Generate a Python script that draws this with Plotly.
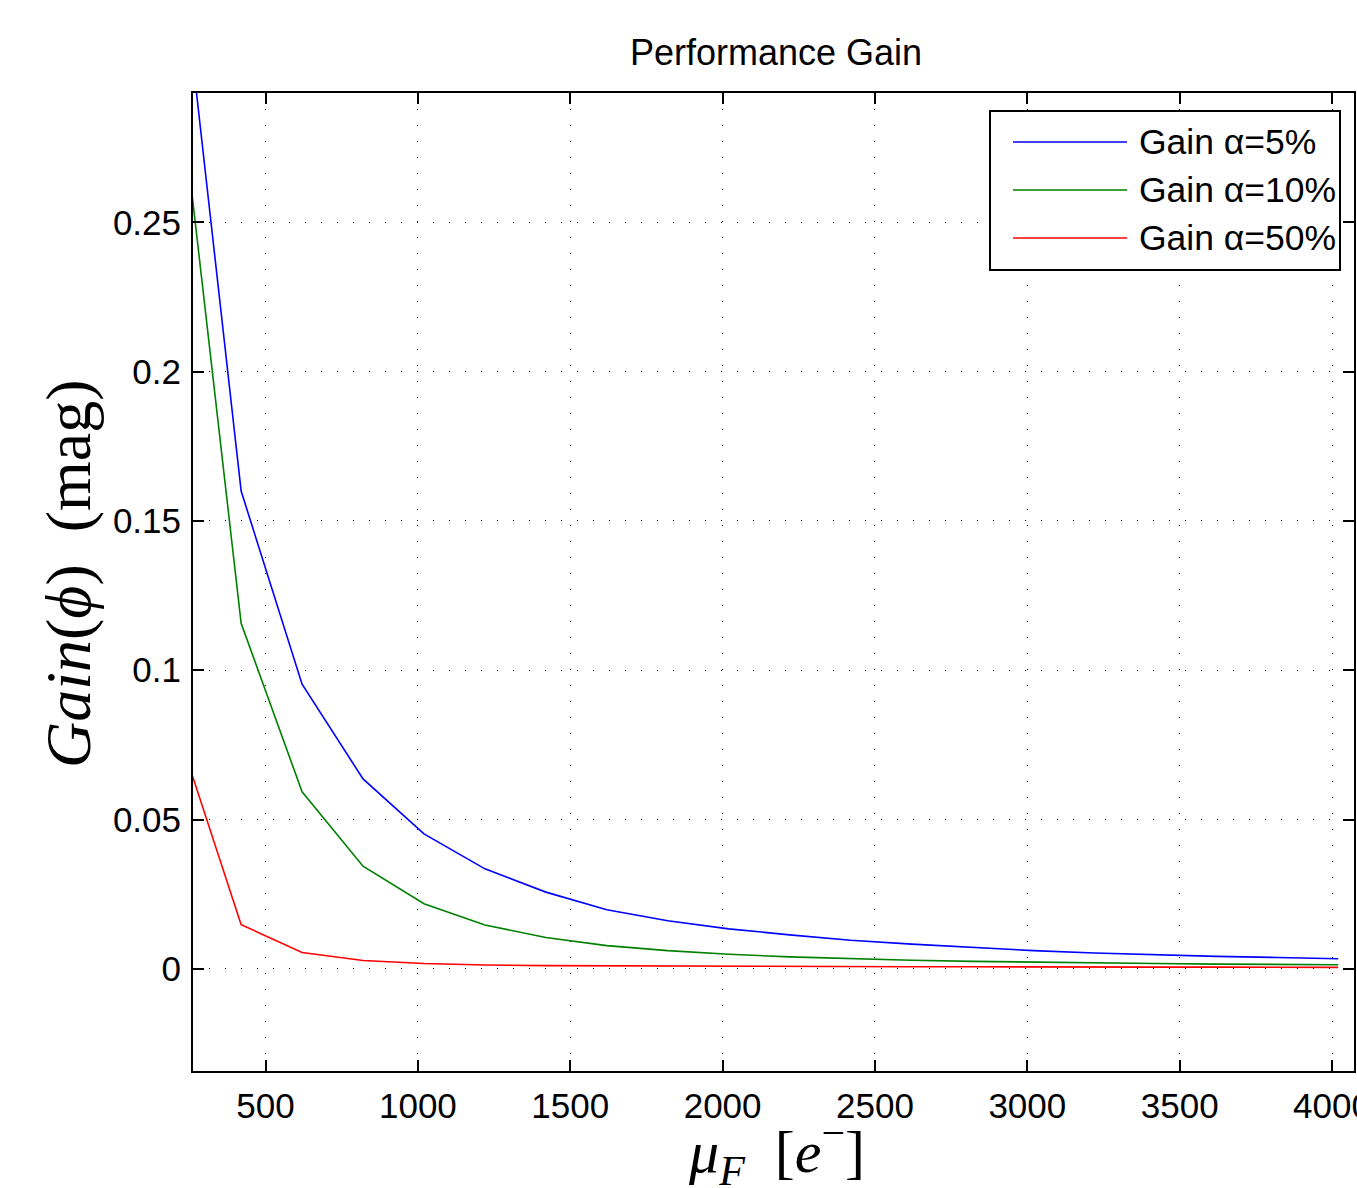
import plotly.graph_objects as go

# ---- data ----
mu_f = [220, 420, 620, 820, 1020, 1220, 1420, 1620, 1820, 2020,
        2220, 2420, 2620, 2820, 3020, 3220, 3420, 3620, 3820, 4020]
gain_5 = [0.342, 0.160, 0.0953, 0.0636, 0.0452, 0.0335, 0.0257, 0.0198, 0.0161, 0.0134,
          0.0114, 0.0096, 0.0083, 0.0071, 0.0061, 0.0053, 0.0047, 0.0042, 0.0038, 0.0034]
gain_10 = [0.294, 0.1157, 0.0593, 0.0344, 0.0218, 0.0147, 0.0105, 0.0078, 0.0061, 0.0049,
           0.0040, 0.0034, 0.0029, 0.0025, 0.0022, 0.0020, 0.0018, 0.0016, 0.0015, 0.0014]
gain_50 = [0.0772, 0.0148, 0.0055, 0.0028, 0.0018, 0.0013, 0.0011, 0.0010, 0.0009, 0.0008,
           0.0008, 0.0007, 0.0007, 0.0007, 0.0006, 0.0006, 0.0006, 0.0006, 0.0005, 0.0005]
series_names = ["Gain α=5%", "Gain α=10%", "Gain α=50%"]
series_colors = ["#0000ff", "#008000", "#ff0000"]
x_ticks = [500, 1000, 1500, 2000, 2500, 3000, 3500, 4000]
y_ticks = [0, 0.05, 0.1, 0.15, 0.2, 0.25]

W, H = 1357, 1188
L, R, T, B = 193, 3, 93, 117
pw = W - L - R
ph = H - T - B

def px(x):
    return (x - L) / pw

def py(y):
    return (H - B - y) / ph

fig = go.Figure()
for name, ys, col in zip(series_names, [gain_5, gain_10, gain_50], series_colors):
    fig.add_trace(go.Scatter(x=mu_f, y=ys, mode="lines", name=name,
                             line=dict(color=col, width=1.6), showlegend=False))

sans = "Liberation Sans, Arial, sans-serif"
serif = "Liberation Serif, Times New Roman, serif"

axis_common = dict(
    showline=True, linecolor="black", linewidth=2, mirror="allticks",
    ticks="inside", ticklen=11, tickwidth=1.5, tickcolor="black",
    showgrid=True, gridcolor="black", gridwidth=1, griddash="1px,15px",
    zeroline=False, tickfont=dict(family=sans, size=35, color="black"),
    ticklabeloverflow="allow", automargin=False,
)
fig.update_xaxes(range=[262, 4072], tickvals=x_ticks, ticklabelstandoff=3, **axis_common)
fig.update_yaxes(range=[-0.0342, 0.2933], tickvals=y_ticks, ticklabelstandoff=3, **axis_common)

# custom MATLAB-like legend
shapes = [dict(type="rect", xref="paper", yref="paper",
               x0=px(990), x1=px(1340), y0=py(270), y1=py(111),
               line=dict(color="black", width=2), fillcolor="white", layer="above")]
annotations = []
leg_y = [142, 190, 238]
for name, col, yy in zip(series_names, series_colors, leg_y):
    shapes.append(dict(type="line", xref="paper", yref="paper",
                       x0=px(1013), x1=px(1127), y0=py(yy), y1=py(yy),
                       line=dict(color=col, width=1.6), layer="above"))
    annotations.append(dict(text=name, xref="paper", yref="paper", x=px(1137), y=py(yy),
                            xanchor="left", yanchor="middle", showarrow=False,
                            font=dict(family=sans, size=35.5, color="black")))

annotations.append(dict(text="<i>Gain</i>(<i>ϕ</i>)  (mag)", xref="paper", yref="paper",
                        x=px(68), y=py(574), xanchor="center", yanchor="middle",
                        textangle=-90, showarrow=False,
                        font=dict(family=serif, size=64, color="black")))
annotations.append(dict(text="<i>μ</i><sub><i>F</i></sub>  [<i>e</i><sup>−</sup>]",
                        xref="paper", yref="paper",
                        x=px(776), y=py(1152), xanchor="center", yanchor="middle",
                        showarrow=False,
                        font=dict(family=serif, size=60, color="black")))

fig.update_layout(
    width=W, height=H, autosize=False,
    margin=dict(l=L, r=R, t=T, b=B, autoexpand=False),
    paper_bgcolor="white", plot_bgcolor="white",
    title=dict(text="Performance Gain", x=px(776), xref="paper", xanchor="center",
               y=1 - 52 / H, yanchor="middle",
               font=dict(family=sans, size=36, color="black")),
    shapes=shapes, annotations=annotations,
    showlegend=False,
)

fig.write_html("out.html", config={"displayModeBar": False},
               post_script="document.body.style.margin='0';document.body.style.overflow='hidden';")
